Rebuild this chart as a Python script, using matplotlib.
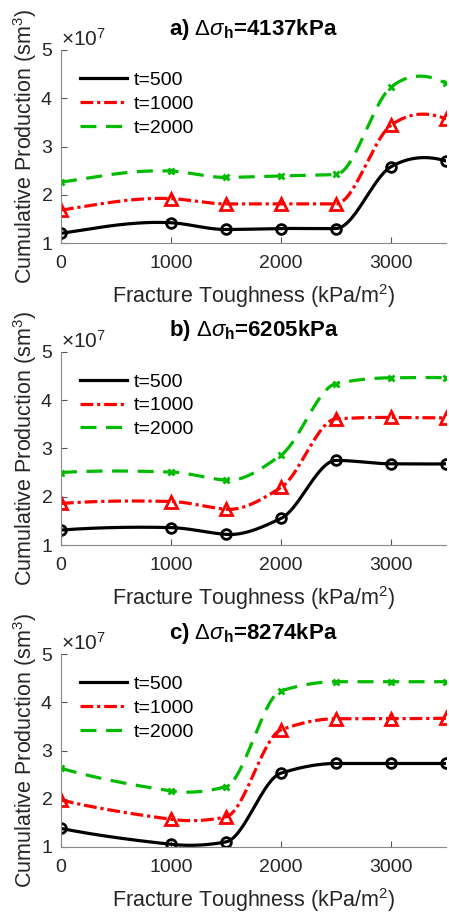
import numpy as np
import matplotlib
matplotlib.use("Agg")
import matplotlib.pyplot as plt

plt.rcParams['font.family'] = ['Liberation Sans', 'DejaVu Sans']
plt.rcParams['mathtext.fontset'] = 'custom'
plt.rcParams['mathtext.rm'] = 'Liberation Sans'
plt.rcParams['mathtext.it'] = 'Liberation Sans:italic'
plt.rcParams['mathtext.bf'] = 'Liberation Sans:bold'

# fracture toughness (kPa/m2)
toughness = [0, 1000, 1500, 2000, 2500, 3000, 3500]

# cumulative production, units of 1e7 sm3
# a) 4137 kPa
a_t500 = [1.20, 1.42, 1.28, 1.30, 1.30, 2.58, 2.70]
a_t1000 = [1.68, 1.92, 1.81, 1.81, 1.81, 3.44, 3.57]
a_t2000 = [2.26, 2.49, 2.36, 2.39, 2.42, 4.23, 4.31]
# b) 6205 kPa
b_t500 = [1.31, 1.36, 1.22, 1.55, 2.75, 2.68, 2.68]
b_t1000 = [1.86, 1.90, 1.74, 2.19, 3.61, 3.64, 3.63]
b_t2000 = [2.50, 2.51, 2.34, 2.86, 4.34, 4.46, 4.46]
# c) 8274 kPa
c_t500 = [1.38, 1.05, 1.10, 2.53, 2.73, 2.73, 2.73]
c_t1000 = [1.97, 1.57, 1.62, 3.43, 3.66, 3.66, 3.67]
c_t2000 = [2.63, 2.16, 2.25, 4.24, 4.43, 4.43, 4.43]

titles = [r'a) $\Delta\sigma_{\mathbf{h}}$=4137kPa',
          r'b) $\Delta\sigma_{\mathbf{h}}$=6205kPa',
          r'c) $\Delta\sigma_{\mathbf{h}}$=8274kPa']
labels = ['t=500', 't=1000', 't=2000']
panels = [[a_t500, a_t1000, a_t2000],
          [b_t500, b_t1000, b_t2000],
          [c_t500, c_t1000, c_t2000]]


def makima(x, y, xs):
    # modified akima interpolation (as matlab makima)
    x = np.asarray(x, float)
    y = np.asarray(y, float)
    n = len(x)
    d = np.diff(y) / np.diff(x)
    # extend slopes by 2 on each side
    dm1 = 2 * d[0] - d[1]
    dm2 = 2 * dm1 - d[0]
    dp1 = 2 * d[-1] - d[-2]
    dp2 = 2 * dp1 - d[-1]
    de = np.concatenate([[dm2, dm1], d, [dp1, dp2]])
    s = np.zeros(n)
    for i in range(n):
        a, b, c, e = de[i], de[i + 1], de[i + 2], de[i + 3]  # d_{i-2}, d_{i-1}, d_i, d_{i+1}
        w1 = abs(e - c) + abs(e + c) / 2
        w2 = abs(b - a) + abs(b + a) / 2
        if w1 + w2 == 0:
            s[i] = (b + c) / 2
        else:
            s[i] = (w1 * b + w2 * c) / (w1 + w2)
    k = np.clip(np.searchsorted(x, xs) - 1, 0, n - 2)
    h = x[k + 1] - x[k]
    t = (xs - x[k]) / h
    h00 = 2 * t**3 - 3 * t**2 + 1
    h10 = t**3 - 2 * t**2 + t
    h01 = -2 * t**3 + 3 * t**2
    h11 = t**3 - t**2
    return h00 * y[k] + h10 * h * s[k] + h01 * y[k + 1] + h11 * h * s[k + 1]


styles = [
    dict(color='black', marker='o', dashes=None, ms=7),
    dict(color='#ff0000', marker='^', dashes=(4, 1.2, 1, 1.2), ms=8),
    dict(color='#00bb00', marker='x', dashes=(5, 3), ms=5),
]

fig = plt.figure(figsize=(4.49, 9.14), dpi=100)
tops = [50, 351.7, 654.3]
bots = [243, 545, 846.7]
xs = np.linspace(0, 3500, 400)

for p in range(3):
    ax = fig.add_axes([61 / 449, 1 - bots[p] / 914, 385 / 449, (bots[p] - tops[p]) / 914])
    for s, vals in enumerate(panels[p]):
        st = styles[s]
        yv = np.array(vals) * 1e7
        line, = ax.plot(xs, makima(toughness, yv, xs), color=st['color'], lw=2.3, label=labels[s])
        if st['dashes'] is not None:
            line.set_dashes(st['dashes'])
        ax.plot(toughness, yv, linestyle='none', marker=st['marker'], ms=st['ms'],
                mfc='none', mec=st['color'], mew=2)
    ax.set_xlim(0, 3500)
    ax.set_ylim(1e7, 5e7)
    ax.set_xticks([0, 1000, 2000, 3000])
    ax.set_yticks([1e7, 2e7, 3e7, 4e7, 5e7])
    ax.ticklabel_format(axis='y', style='sci', scilimits=(0, 0), useMathText=True)
    ax.yaxis.get_offset_text().set_fontsize(15)
    ax.yaxis.get_offset_text().set_color('#555555')
    for sp in ['top', 'right']:
        ax.spines[sp].set_visible(False)
    for sp in ['left', 'bottom']:
        ax.spines[sp].set_color('#888888')
    ax.tick_params(direction='in', length=4, color='#555555', labelsize=14,
                   labelcolor='#262626', pad=6)
    ax.tick_params(axis='x', pad=9)
    ax.set_xlabel('Fracture Toughness (kPa/m$^2$)', fontsize=15.5, color='#262626', labelpad=7)
    ax.set_ylabel('Cumulative Production (sm$^3$)', fontsize=15.5, color='#262626', labelpad=1)
    ax.set_title(titles[p], fontsize=16, fontweight='bold', pad=11)
    ax.legend(loc='upper left', bbox_to_anchor=(0.03, 0.93), frameon=False, fontsize=14,
              handlelength=2.4, handletextpad=0.35, labelspacing=0.32, borderaxespad=0)

fig.savefig('out.png', dpi=100)
